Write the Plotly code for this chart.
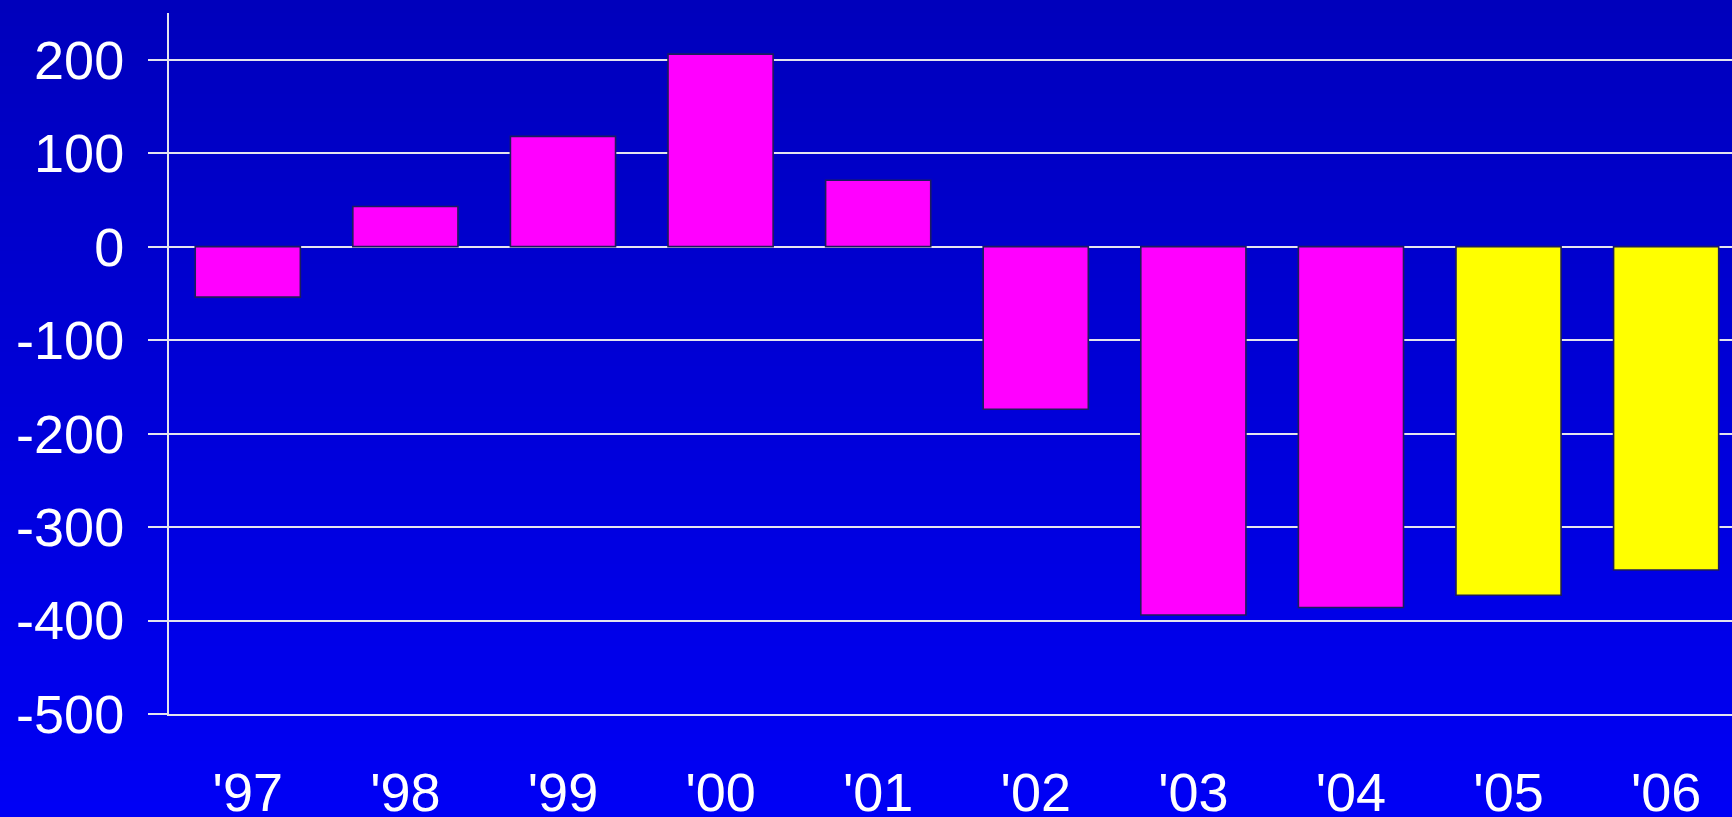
import plotly.graph_objects as go

# Yearly values
years = ["'97", "'98", "'99", "'00", "'01", "'02", "'03", "'04", "'05", "'06"]
values = [-54, 43, 118, 206, 71, -174, -394, -386, -373, -346]
bar_colors = ["#FF00FF"] * 8 + ["#FFFF00"] * 2
y_ticks = [200, 100, 0, -100, -200, -300, -400, -500]

W, H = 1732, 817
M_L, M_R, M_T, M_B = 169, 0, 13, 103

fig = go.Figure(
    go.Bar(
        x=list(range(len(years))),
        y=values,
        marker=dict(color=bar_colors, line=dict(color="#1C1C5E", width=1.6)),
        width=0.667,
        hoverinfo="x+y",
    )
)

# vertical background gradient (dark blue at top, bright blue at bottom)
plot_h = H - M_T - M_B
top_p = 1 + M_T / plot_h
bot_p = -M_B / plot_h
n = 120
shapes = []
for i in range(n):
    t = i / (n - 1)
    b = round(188 + (245 - 188) * t)
    y1 = top_p - (top_p - bot_p) * i / n + 0.002
    y0 = top_p - (top_p - bot_p) * (i + 1) / n - 0.002
    shapes.append(dict(
        type="rect", xref="paper", yref="paper",
        x0=-0.2, x1=1.2, y0=y0 if i < n - 1 else y0 - 0.05, y1=y1 if i > 0 else y1 + 0.05,
        fillcolor=f"rgb(0,0,{b})", line=dict(width=0), layer="below",
    ))

fig.update_layout(
    width=W, height=H,
    margin=dict(l=M_L, r=M_R, t=M_T, b=M_B, pad=0, autoexpand=False),
    paper_bgcolor="rgb(0,0,216)",
    plot_bgcolor="rgba(0,0,0,0)",
    shapes=shapes,
    showlegend=False,
    font=dict(family="Liberation Sans, Arial, sans-serif", color="white", size=54),
    xaxis=dict(
        range=[-0.5, 9.418],
        tickmode="array",
        tickvals=list(range(len(years))),
        ticktext=years,
        showgrid=False,
        showline=True,
        linecolor="#E4E4EE",
        linewidth=2,
        zeroline=False,
        ticks="",
        automargin=False,
        ticklabelstandoff=30,
        tickfont=dict(size=54, color="white"),
    ),
    yaxis=dict(
        range=[-500, 250],
        tickmode="array",
        tickvals=y_ticks,
        ticktext=[str(v) for v in y_ticks],
        showgrid=True,
        gridcolor="#E4E4EE",
        gridwidth=2,
        zeroline=True,
        zerolinecolor="#E4E4EE",
        zerolinewidth=2,
        showline=True,
        linecolor="#E4E4EE",
        linewidth=2,
        ticks="outside",
        ticklen=19,
        tickwidth=2,
        tickcolor="#E4E4EE",
        automargin=False,
        ticklabelstandoff=13,
        tickfont=dict(size=54, color="white"),
    ),
)

fig.write_html("out.html")
